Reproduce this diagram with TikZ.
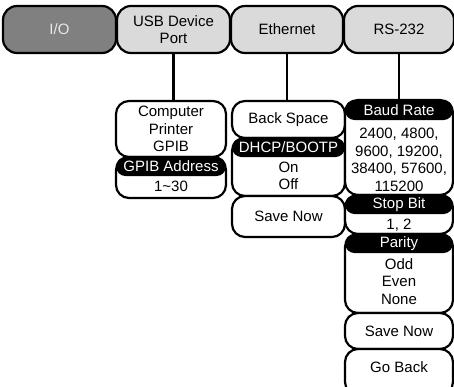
\documentclass[tikz,border=0pt]{standalone}
\usepackage{fontspec}
\setmainfont{Liberation Sans}
\usepackage{tikz}
\definecolor{tabdark}{RGB}{128,128,128}
\definecolor{tablight}{RGB}{218,218,218}
\definecolor{iotext}{RGB}{232,232,232}
\tikzset{
  tab/.style={draw, line width=2.2pt, rounded corners=14pt, fill=tablight,
    minimum height=47pt, inner sep=0pt, outer sep=0pt, align=center},
  frame/.style={draw, line width=2.2pt, rounded corners=13pt, fill=white,
    inner sep=0pt, outer sep=0pt, align=center},
  pill/.style={fill=black, text=white, rounded corners=9.5pt, minimum height=19pt,
    inner sep=0pt, outer sep=0pt},
  body/.style={inner sep=0pt, align=center},
  conn/.style={line width=2.2pt}
}

\begin{document}
\begin{tikzpicture}[x=1pt, y=-1pt, every node/.style={font=\fontsize{15}{17.5}\selectfont}]
  \useasboundingbox (0,0) rectangle (454,386);
  % menu tabs
  \node[tab, fill=tabdark, text=iotext, minimum width=113pt] (io) at (59.5,29.5) {I/O};
  \node[tab, minimum width=113pt] (usb) at (173.5,29.5) {USB Device\\Port};
  \node[tab, minimum width=112pt] (eth) at (287,29.5) {Ethernet};
  \node[tab, minimum width=110pt] (rs)  at (399,29.5) {RS-232};
  % USB column
  \node[frame, minimum width=110pt, minimum height=56pt] (dest) at (171,129) {Computer\\Printer\\GPIB};
  \node[frame, minimum width=110pt, minimum height=41pt] (gpib) at (171,177.5) {};
  \node[pill, minimum width=110pt, anchor=north] (gpibhd) at (gpib.north) {GPIB Address};
  \node[body] (gpibtx) at (171,186) {1\textasciitilde30};
  % Ethernet column
  \node[frame, minimum width=113pt, minimum height=37pt] (bksp) at (288.5,119.5) {Back Space};
  \node[frame, minimum width=113pt, minimum height=58pt] (dhcp) at (288.5,167) {};
  \node[pill, minimum width=113pt, anchor=north] (dhcphd) at (dhcp.north) {DHCP/BOOTP};
  \node[body] (dhcptx) at (288.5,176) {On\\Off};
  \node[frame, minimum width=113pt, minimum height=41pt] (esave) at (288.5,216.5) {Save Now};
  % RS-232 column
  \node[frame, minimum width=108pt, minimum height=95pt] (baud) at (399,147.5) {};
  \node[pill, minimum width=108pt, minimum height=20pt, anchor=north] (baudhd) at (baud.north) {Baud Rate};
  \node[body] (baudtx) at (399,160) {2400, 4800,\\9600, 19200,\\38400, 57600,\\115200};
  \node[frame, minimum width=108pt, minimum height=39pt] (stop) at (399,214.5) {};
  \node[pill, minimum width=108pt, anchor=north] (stophd) at (stop.north) {Stop Bit};
  \node[body] (stoptx) at (399,225) {1, 2};
  \node[frame, minimum width=108pt, minimum height=79pt] (par) at (399,273.5) {};
  \node[pill, minimum width=108pt, anchor=north] (parhd) at (par.north) {Parity};
  \node[body] (partx) at (399,281.5) {Odd\\Even\\None};
  \node[frame, minimum width=108pt, minimum height=36pt] (rsave) at (399,331) {Save Now};
  \node[frame, minimum width=108pt, minimum height=46pt] (back) at (399,372) {};
  \node[body] (backtx) at (399,367) {Go Back};
  % links
  \draw[conn] (usb.south) -- (usb.south |- dest.north);
  \draw[conn] (eth.south) -- (eth.south |- bksp.north);
  \draw[conn] (rs.south) -- (rs.south |- baud.north);
\end{tikzpicture}
\end{document}
